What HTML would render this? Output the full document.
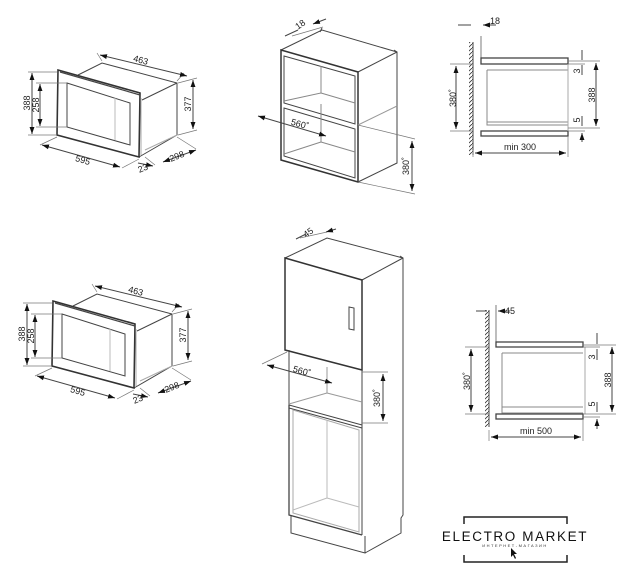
<!DOCTYPE html>
<html><head><meta charset="utf-8"><style>
html,body{margin:0;padding:0;background:#fff;}
svg{display:block;font-family:"Liberation Sans",sans-serif;}
text{font-size:9px;fill:#222;}
</style></head><body>
<svg width="636" height="575" viewBox="0 0 636 575" xmlns="http://www.w3.org/2000/svg">
<defs>
<marker id="a" viewBox="0 0 10 10" refX="10" refY="5" markerWidth="7" markerHeight="7" orient="auto-start-reverse"><path d="M0,1.5 L10,5 L0,8.5 z" fill="#111"/></marker>
<pattern id="h" width="4" height="4" patternUnits="userSpaceOnUse"><path d="M0,4 L4,0" stroke="#333" stroke-width="0.8"/></pattern>
<g id="mw" fill="none" stroke="#444" stroke-width="1">
 <path d="M78,75 L102,63 L177,83 L177,135 L139,157" />
 <path d="M142,100 L177,83"/>
 <path d="M145,150 L177,135" stroke="#aaa"/>
 <path d="M58,70 L140,93 L139,157 L57,135 Z" stroke-width="1.6" stroke="#333"/>
 <path d="M60,72 L140,95" stroke-width="1.2"/>
 <path d="M67,83 L130,103 L130,145 L67,127 Z"/>
 <path d="M115,98 L115,140" stroke="#bbb"/>
 <path d="M141,98 L141,155" stroke="#aaa"/>
 <path d="M28,72 L57,72 M28,135 L57,135 M36,83 L67,83 M36,127 L67,127" stroke="#777" stroke-width="0.7"/>
 <path d="M32,73 L32,134" marker-start="url(#a)" marker-end="url(#a)"/>
 <path d="M40,84 L40,126" marker-start="url(#a)" marker-end="url(#a)"/>
 <path d="M57,137 L40,145 M139,159 L122,168" stroke="#777" stroke-width="0.7"/>
 <path d="M42,145 L120,167" marker-start="url(#a)" marker-end="url(#a)"/>
 <path d="M102,61 L97,53 M177,81 L184,73" stroke="#777" stroke-width="0.7"/>
 <path d="M100,55 L187,76" marker-start="url(#a)" marker-end="url(#a)"/>
 <path d="M178,83 L197,78 M178,135 L197,130" stroke="#777" stroke-width="0.7"/>
 <path d="M193,80 L193,129" marker-start="url(#a)" marker-end="url(#a)"/>
 <path d="M177,137 L196,149 M145,157 L155,165" stroke="#777" stroke-width="0.7"/>
 <path d="M163,162 L196,150" marker-start="url(#a)" marker-end="url(#a)"/>
 <path d="M138,163 L153,166" marker-end="url(#a)"/>
</g>
</defs>

<use href="#mw"/>
<text x="30" y="103" transform="rotate(-90 30 103)" text-anchor="middle">388</text>
<text x="39" y="105" transform="rotate(-90 39 105)" text-anchor="middle">258</text>
<text x="82" y="163" transform="rotate(16 82 163)" text-anchor="middle">595</text>
<text x="140" y="63" transform="rotate(15 140 63)" text-anchor="middle">463</text>
<text x="191" y="104" transform="rotate(-90 191 104)" text-anchor="middle">377</text>
<text x="178" y="159" transform="rotate(-22 178 159)" text-anchor="middle">298</text>
<text x="144" y="171" transform="rotate(-22 144 171)" text-anchor="middle">23</text>

<use href="#mw" transform="translate(-5,231)"/>
<text x="25" y="334" transform="rotate(-90 25 334)" text-anchor="middle">388</text>
<text x="34" y="336" transform="rotate(-90 34 336)" text-anchor="middle">258</text>
<text x="77" y="394" transform="rotate(16 77 394)" text-anchor="middle">595</text>
<text x="135" y="294" transform="rotate(15 135 294)" text-anchor="middle">463</text>
<text x="186" y="335" transform="rotate(-90 186 335)" text-anchor="middle">377</text>
<text x="173" y="390" transform="rotate(-22 173 390)" text-anchor="middle">298</text>
<text x="139" y="402" transform="rotate(-22 139 402)" text-anchor="middle">23</text>

<g fill="none" stroke="#444" stroke-width="1">
 <path d="M281,50 L322,30 L397,52 L397,163 L358,182"/>
 <path d="M358,72 L397,52"/>
 <path d="M394,50 L397,52 M320,32 L322,28"/>
 <path d="M281,50 L358,72 L358,182 L281,160 Z" stroke-width="1.5" stroke="#333"/>
 <path d="M284,56 L355,76 L355,124 L284,103 Z"/>
 <path d="M284,108 L355,129 L355,178 L284,156 Z"/>
 <path d="M321,66 L321,93 L284,101 M321,93 L355,103" stroke="#888"/>
 <path d="M321,104 L321,142 L284,154 M321,142 L355,152" stroke="#888"/>
 <path d="M358,125 L397,106" stroke="#999"/>
 <path d="M358,125 L415,139 M358,182 L415,194" stroke="#777" stroke-width="0.7"/>
 <path d="M412,141 L412,191" marker-start="url(#a)" marker-end="url(#a)"/>
 <path d="M258,116 L326,136" marker-start="url(#a)" marker-end="url(#a)"/>
 <path d="M292,36 L323,27" stroke="#777" stroke-width="0.7"/>
 <path d="M285,36 L298,30 M326,19 L313,24" marker-end="url(#a)"/>
</g>
<text x="299" y="127" transform="rotate(16 299 127)" text-anchor="middle">560˚</text>
<text x="409" y="166" transform="rotate(-90 409 166)" text-anchor="middle">380˚</text>
<text x="302" y="27" transform="rotate(-35 302 27)" text-anchor="middle">18</text>

<g fill="none" stroke="#444" stroke-width="1">
 <rect x="469" y="42" width="4" height="113" fill="url(#h)" stroke="none"/>
 <path d="M473,42 L473,155"/>
 <path d="M481,36 L481,58" stroke-width="0.7"/>
 <path d="M458,25 L471,25 M496,25 L483,25" marker-end="url(#a)"/>
 <rect x="481" y="58" width="87" height="6" stroke-width="1.3"/>
 <rect x="481" y="131" width="87" height="5" stroke-width="1.3"/>
 <path d="M487,70 L568,70 M487,70 L487,125 L568,125 M487,122 L568,122" stroke="#888"/>
 <path d="M568,64 L568,131" stroke="#aaa"/>
 <path d="M450,64 L473,64 M450,131 L473,131" stroke="#777" stroke-width="0.7"/>
 <path d="M456,66 L456,129" marker-start="url(#a)" marker-end="url(#a)"/>
 <path d="M568,61 L600,61 M568,128 L600,128 M568,64 L585,64 M568,131 L585,131" stroke="#777" stroke-width="0.7"/>
 <path d="M596,63 L596,126" marker-start="url(#a)" marker-end="url(#a)"/>
 <path d="M582,50 L582,60 M582,75 L582,65 M582,116 L582,126 M582,142 L582,133" marker-end="url(#a)"/>
 <path d="M473,150 L473,157 M568,136 L568,157" stroke="#777" stroke-width="0.7"/>
 <path d="M475,153 L566,153" marker-start="url(#a)" marker-end="url(#a)"/>
</g>
<text x="456" y="98" transform="rotate(-90 456 98)" text-anchor="middle">380˚</text>
<text x="595" y="95" transform="rotate(-90 595 95)" text-anchor="middle">388</text>
<text x="580" y="71" transform="rotate(-90 580 71)" text-anchor="middle">3</text>
<text x="580" y="120" transform="rotate(-90 580 120)" text-anchor="middle">5</text>
<text x="490" y="24">18</text>
<text x="520" y="150" text-anchor="middle">min 300</text>

<g fill="none" stroke="#444" stroke-width="1">
 <path d="M285,258 L327,238 L403,258 L403,515 L401,518 L401,533 L365,553"/>
 <path d="M362,280 L403,258 M400,256 L403,258"/>
 <path d="M285,258 L362,280 L362,370 L285,350 Z" stroke-width="1.5" stroke="#333"/>
 <path d="M349,307 L354,308 L354,330 L349,329 Z"/>
 <path d="M289,350 L289,405 L362,425 M362,370 L362,535"/>
 <path d="M289,405 L289,515 L362,535" stroke-width="1.3"/>
 <path d="M289,408 L362,428" />
 <path d="M293,410 L293,513 L359,532 L359,430 Z" stroke="#aaa"/>
 <path d="M327,367 L327,393 L289,404 M327,393 L362,402" stroke="#999"/>
 <path d="M327,420 L327,498 L293,510 M327,498 L359,507" stroke="#bbb"/>
 <path d="M291,515 L291,533 L365,553 L365,536"/>
 <path d="M362,372 L388,372 M362,423 L388,423" stroke="#777" stroke-width="0.7"/>
 <path d="M383,374 L383,421" marker-start="url(#a)" marker-end="url(#a)"/>
 <path d="M267,365 L332,383" marker-start="url(#a)" marker-end="url(#a)"/>
 <path d="M262,364 L287,352" stroke="#777" stroke-width="0.7"/>
 <path d="M300,238 L327,232" stroke="#777" stroke-width="0.7"/>
 <path d="M296,239 L306,234 M336,229 L326,232" marker-end="url(#a)"/>
</g>
<text x="301" y="374" transform="rotate(16 301 374)" text-anchor="middle">560˚</text>
<text x="380" y="398" transform="rotate(-90 380 398)" text-anchor="middle">380˚</text>
<text x="310" y="235" transform="rotate(-35 310 235)" text-anchor="middle">45</text>

<g fill="none" stroke="#444" stroke-width="1">
 <rect x="485" y="310" width="4" height="117" fill="url(#h)" stroke="none"/>
 <path d="M489,310 L489,427"/>
 <path d="M496,305 L496,342" stroke-width="0.7"/>
 <path d="M476,311 L487,311 M510,311 L498,311" marker-end="url(#a)"/>
 <rect x="496" y="342" width="87" height="5" stroke-width="1.3"/>
 <rect x="496" y="414" width="87" height="5" stroke-width="1.3"/>
 <path d="M502,353 L583,353 M502,353 L502,413 L583,413 M502,407 L583,407" stroke="#888"/>
 <path d="M585,347 L585,414" stroke="#aaa"/>
 <path d="M465,347 L489,347 M465,414 L489,414" stroke="#777" stroke-width="0.7"/>
 <path d="M471,349 L471,412" marker-start="url(#a)" marker-end="url(#a)"/>
 <path d="M583,345 L616,345 M583,414 L616,414 M583,347 L600,347 M583,417 L600,417" stroke="#777" stroke-width="0.7"/>
 <path d="M612,347 L612,412" marker-start="url(#a)" marker-end="url(#a)"/>
 <path d="M597,333 L597,344 M597,360 L597,349 M597,402 L597,412 M597,429 L597,419" marker-end="url(#a)"/>
 <path d="M489,430 L489,441 M583,419 L583,441" stroke="#777" stroke-width="0.7"/>
 <path d="M491,437 L581,437" marker-start="url(#a)" marker-end="url(#a)"/>
</g>
<text x="470" y="381" transform="rotate(-90 470 381)" text-anchor="middle">380˚</text>
<text x="611" y="380" transform="rotate(-90 611 380)" text-anchor="middle">388</text>
<text x="595" y="357" transform="rotate(-90 595 357)" text-anchor="middle">3</text>
<text x="595" y="404" transform="rotate(-90 595 404)" text-anchor="middle">5</text>
<text x="505" y="314">45</text>
<text x="536" y="434" text-anchor="middle">min 500</text>

<g fill="none" stroke="#222" stroke-width="1.5">
 <path d="M464,524 L464,517 L567,517 L567,524"/>
 <path d="M464,555 L464,562 L567,562 L567,555"/>
</g>
<text x="515" y="541" text-anchor="middle" style="font-size:13.5px;letter-spacing:1.6px;fill:#111">ELECTRO MARKET</text>
<text x="515" y="547" text-anchor="middle" style="font-size:4px;letter-spacing:1.5px;fill:#333">ИНТЕРНЕТ-МАГАЗИН</text>
<path d="M511,548 L511,557 L513,555 L515,559 L516,558 L514,554 L517,554 Z" fill="#111"/>
</svg>
</body></html>
